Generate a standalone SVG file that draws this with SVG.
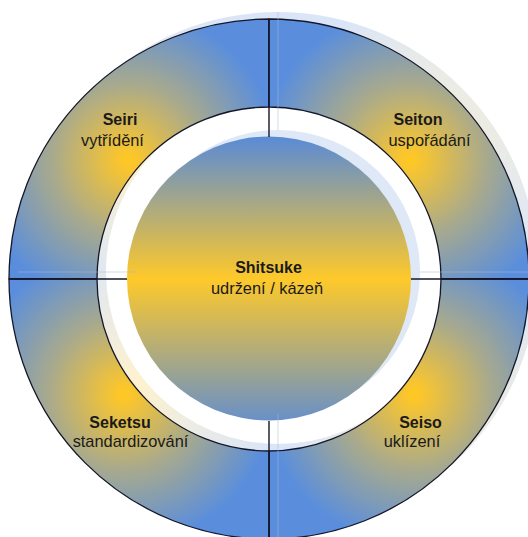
<svg xmlns="http://www.w3.org/2000/svg" width="528" height="537" viewBox="0 0 528 537">
<style>
.q{stroke:#14162a;stroke-width:1.3;stroke-linejoin:round}
.ax{stroke:#14162a;stroke-width:1.4;fill:none}
.gax{stroke:#a9bbd8;stroke-width:1;fill:none;opacity:0.5}
.b{font-family:"Liberation Sans",Arial,sans-serif;font-size:16px;font-weight:bold;fill:#1a1a1a;text-anchor:middle}
.r{font-family:"Liberation Sans",Arial,sans-serif;font-size:16.4px;fill:#1a1a1a;text-anchor:middle}
</style>
<defs>
<radialGradient id="gTL" gradientUnits="userSpaceOnUse" cx="128" cy="160" r="150">
<stop offset="0" stop-color="#ffc820"/><stop offset="0.05" stop-color="#fbc62c"/><stop offset="0.5" stop-color="#a9aa8c"/><stop offset="1" stop-color="#5a8edc"/>
</radialGradient>
<radialGradient id="gTR" gradientUnits="userSpaceOnUse" cx="410" cy="160" r="150">
<stop offset="0" stop-color="#ffc820"/><stop offset="0.05" stop-color="#fbc62c"/><stop offset="0.5" stop-color="#a9aa8c"/><stop offset="1" stop-color="#5a8edc"/>
</radialGradient>
<radialGradient id="gBR" gradientUnits="userSpaceOnUse" cx="414" cy="394" r="150">
<stop offset="0" stop-color="#ffc820"/><stop offset="0.05" stop-color="#fbc62c"/><stop offset="0.5" stop-color="#a9aa8c"/><stop offset="1" stop-color="#5a8edc"/>
</radialGradient>
<radialGradient id="gBL" gradientUnits="userSpaceOnUse" cx="124" cy="394" r="150">
<stop offset="0" stop-color="#ffc820"/><stop offset="0.05" stop-color="#fbc62c"/><stop offset="0.5" stop-color="#a9aa8c"/><stop offset="1" stop-color="#5a8edc"/>
</radialGradient>
<linearGradient id="gDisk" gradientUnits="userSpaceOnUse" x1="0" y1="137" x2="0" y2="421">
<stop offset="0" stop-color="#5a8bd6"/><stop offset="0.5" stop-color="#fec92a"/><stop offset="1" stop-color="#6890c8"/>
</linearGradient>
</defs>
<rect width="528" height="537" fill="#ffffff"/>
<g id="ghost" transform="translate(9,-7)" opacity="0.22">
<path fill="url(#gTL)" d="M 9 279 A 260 260 0 0 1 269 19 L 269 107 A 172 172 0 0 0 97 279 Z"/>
<path fill="url(#gTR)" d="M 269 19 A 260 260 0 0 1 529 279 L 441 279 A 172 172 0 0 0 269 107 Z"/>
<path fill="url(#gBR)" d="M 529 279 A 260 260 0 0 1 269 539 L 269 451 A 172 172 0 0 0 441 279 Z"/>
<path fill="url(#gBL)" d="M 269 539 A 260 260 0 0 1 9 279 L 97 279 A 172 172 0 0 0 269 451 Z"/>
<circle cx="269" cy="279" r="142" fill="#6f98d8"/>
</g>
<g id="seiri">
<path class="q" fill="url(#gTL)" d="M 9 279 A 260 260 0 0 1 269 19 L 269 107 A 172 172 0 0 0 97 279 Z"/>
<text class="b" x="120" y="125">Seiri</text>
<text class="r" x="112.5" y="145.5">vytřídění</text>
</g>
<g id="seiton">
<path class="q" fill="url(#gTR)" d="M 269 19 A 260 260 0 0 1 529 279 L 441 279 A 172 172 0 0 0 269 107 Z"/>
<text class="b" x="418" y="125">Seiton</text>
<text class="r" x="429.5" y="145.5">uspořádání</text>
</g>
<g id="seiso">
<path class="q" fill="url(#gBR)" d="M 529 279 A 260 260 0 0 1 269 539 L 269 451 A 172 172 0 0 0 441 279 Z"/>
<text class="b" x="420.5" y="427.5">Seiso</text>
<text class="r" x="412" y="447">uklízení</text>
</g>
<g id="seketsu">
<path class="q" fill="url(#gBL)" d="M 269 539 A 260 260 0 0 1 9 279 L 97 279 A 172 172 0 0 0 269 451 Z"/>
<text class="b" x="120" y="427.5">Seketsu</text>
<text class="r" x="130.5" y="447">standardizování</text>
</g>
<g id="shitsuke">
<circle cx="269" cy="278.5" r="142" fill="url(#gDisk)"/>
<text class="b" x="268.5" y="273">Shitsuke</text>
<text class="r" x="267" y="294">udržení / kázeň</text>
</g>
<g id="connectors">
<line class="gax" x1="278" y1="12" x2="278" y2="130"/>
<line class="gax" x1="278" y1="414" x2="278" y2="537"/>
<line class="gax" x1="18" y1="272" x2="136" y2="272"/>
<line class="gax" x1="420" y1="272" x2="528" y2="272"/>
<line class="ax" x1="269" y1="19" x2="269" y2="137"/>
<line class="ax" x1="269" y1="421" x2="269" y2="539"/>
<line class="ax" x1="9" y1="279" x2="127" y2="279"/>
<line class="ax" x1="411" y1="279" x2="529" y2="279"/>
</g>
</svg>
